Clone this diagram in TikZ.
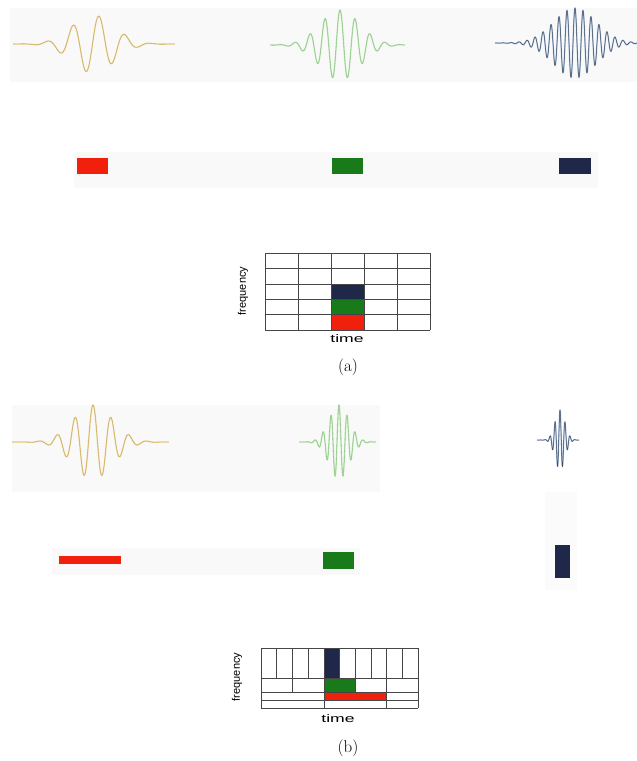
\documentclass[tikz,border=0pt]{standalone}
\usepackage{fontspec}
\newfontfamily\labfont{Liberation Sans}
\definecolor{barred}{RGB}{240,32,12}
\definecolor{bargreen}{RGB}{24,122,24}
\definecolor{barnavy}{RGB}{32,40,74}
\definecolor{waveyel}{RGB}{238,208,136}
\definecolor{wavegrn}{RGB}{176,226,166}
\definecolor{waveblu}{RGB}{160,186,222}
\definecolor{bandgray}{RGB}{249,249,249}
\definecolor{gridgray}{RGB}{70,70,70}
\begin{document}
\begin{tikzpicture}[x=1pt,y=-1pt,
  band/.style={fill=bandgray,draw=none},
  gridline/.style={draw=gridgray,line width=0.55pt},
  wave/.style={line width=1.3pt,smooth,line join=round,variable=\t},
  trace/.style={line width=0.35pt,smooth,variable=\t,black,opacity=0.2},
  axlabel/.style={font=\labfont\fontsize{11}{13}\selectfont,inner sep=0pt},
  caption/.style={font=\fontsize{17}{19}\selectfont,inner sep=0pt}]
\useasboundingbox (0,0) rectangle (637,761);
% (a) wave packets
\fill[band] (10,8) rectangle (637,82);
\draw[wave,waveyel,domain=13:175,samples=220] plot ({\t},{44-29*exp(-((\t-93)/30)*((\t-93)/30))*cos((\t-99)/26*360)});
\draw[trace,domain=13:175,samples=220] plot ({\t},{44-29*exp(-((\t-93)/30)*((\t-93)/30))*cos((\t-99)/26*360)});
\draw[wave,wavegrn,domain=270:405,samples=300] plot ({\t},{45-35*exp(-((\t-340)/28)*((\t-340)/28))*cos((\t-340)/15*360)});
\draw[trace,opacity=0.15,domain=270:405,samples=300] plot ({\t},{45-35*exp(-((\t-340)/28)*((\t-340)/28))*cos((\t-340)/15*360)});
\draw[wave,waveblu,domain=495:637,samples=500] plot ({\t},{43-35*exp(-((\t-575)/30)*((\t-575)/30))*cos((\t-575)/8*360)});
\draw[trace,opacity=0.6,line width=0.5pt,domain=495:637,samples=500] plot ({\t},{43-35*exp(-((\t-575)/30)*((\t-575)/30))*cos((\t-575)/8*360)});
% (a) bars
\fill[band] (74,152) rectangle (598,188);
\fill[barred] (77,158) rectangle (108,174);
\fill[bargreen] (332,158) rectangle (363,174);
\fill[barnavy] (559,158) rectangle (591,174);
% (a) tiling
\fill[barnavy] (331,283.8) rectangle (364,299.2);
\fill[bargreen] (331,299.2) rectangle (364,314.6);
\fill[barred] (331,314.6) rectangle (364,330);
\foreach \i in {0,...,5} {
  \draw[gridline] ({265+33*\i},253) -- ({265+33*\i},330);
  \draw[gridline] (265,{253+15.4*\i}) -- (430,{253+15.4*\i});
}
\node[axlabel,rotate=90] (freqa) at (243,291) {frequency};
\node[axlabel] (timea) at (347,339) {\scalebox{1.6}[1]{time}};
\node[caption] (capa) at (348,367) {(a)};
% (b) wave packets
\fill[band] (12,405) rectangle (380,492);
\fill[bandgray!60!white] (545,492) rectangle (577,590);
\draw[wave,waveyel,domain=12:169,samples=300] plot ({\t},{442-37*exp(-((\t-93)/28)*((\t-93)/28))*cos((\t-93)/18*360)});
\draw[trace,domain=12:169,samples=300] plot ({\t},{442-37*exp(-((\t-93)/28)*((\t-93)/28))*cos((\t-93)/18*360)});
\draw[wave,wavegrn,domain=299:376,samples=300] plot ({\t},{442-37*exp(-((\t-339)/14)*((\t-339)/14))*cos((\t-339)/8*360)});
\draw[trace,opacity=0.15,domain=299:376,samples=300] plot ({\t},{442-37*exp(-((\t-339)/14)*((\t-339)/14))*cos((\t-339)/8*360)});
\draw[wave,waveblu,domain=537:579,samples=300] plot ({\t},{440-30*exp(-((\t-560)/7)*((\t-560)/7))*cos((\t-560)/5*360)});
\draw[trace,opacity=0.6,line width=0.5pt,domain=537:579,samples=300] plot ({\t},{440-30*exp(-((\t-560)/7)*((\t-560)/7))*cos((\t-560)/5*360)});
% (b) bars
\fill[band] (52,548) rectangle (360,575);
\fill[barred] (59,556) rectangle (121,564);
\fill[bargreen] (323,552) rectangle (354,569);
\fill[barnavy] (555,545) rectangle (570,578);
% (b) tiling
\fill[barnavy] (323.8,648) rectangle (339.5,678);
\fill[bargreen] (323.8,678) rectangle (355.2,692);
\fill[barred] (323.8,692) rectangle (386.6,700);
\foreach \y in {648,678,692,700,708}
  \draw[gridline] (261,\y) -- (418,\y);
\foreach \i in {0,...,10}
  \draw[gridline] ({261+15.7*\i},648) -- ({261+15.7*\i},678);
\foreach \i in {0,...,5}
  \draw[gridline] ({261+31.4*\i},678) -- ({261+31.4*\i},692);
\foreach \x in {261,323.8,386.6,418}
  \draw[gridline] (\x,692) -- (\x,708);
\node[axlabel,rotate=90] (freqb) at (237,677) {frequency};
\node[axlabel] (timeb) at (338,719) {\scalebox{1.6}[1]{time}};
\node[caption] (capb) at (348,748) {(b)};
\end{tikzpicture}
\end{document}
